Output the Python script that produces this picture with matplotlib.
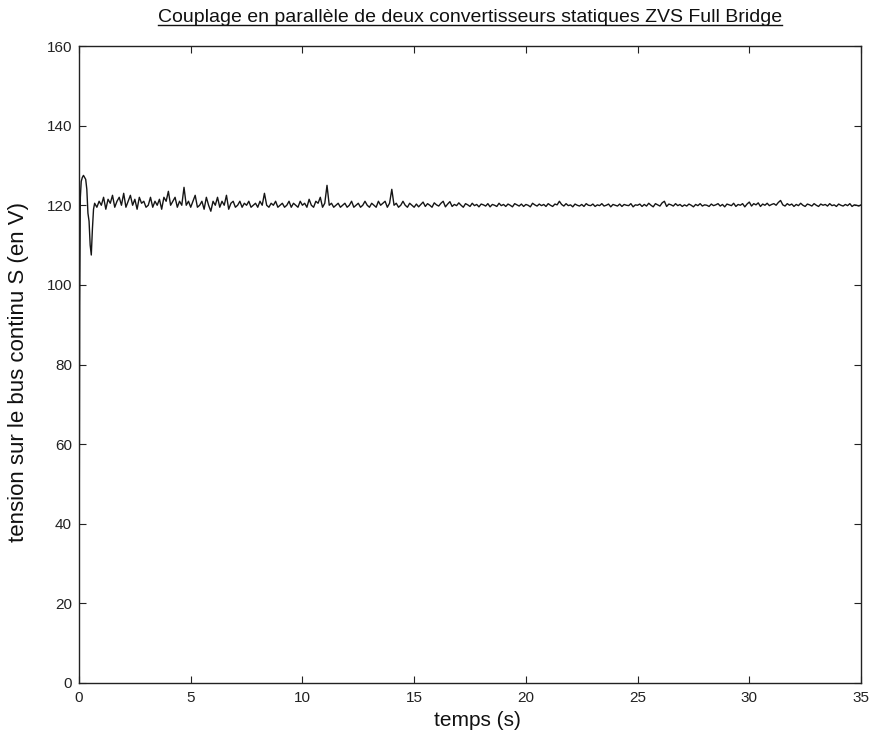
import matplotlib
matplotlib.use("Agg")
import matplotlib.pyplot as plt
from matplotlib.lines import Line2D

plt.rcParams['font.family'] = ['Liberation Sans', 'DejaVu Sans']

# ---- data ----
t_transient = [0.0, 0.01, 0.03, 0.06, 0.1, 0.15, 0.2, 0.25, 0.3, 0.35, 0.4, 0.45, 0.5, 0.55, 0.6, 0.65, 0.7]
v_transient = [0.0, 40.0, 95.0, 122.0, 126.0, 127.0, 127.5, 127.0, 126.5, 124.0, 118.0, 116.0, 110.0, 107.5, 114.0, 119.0, 120.5]

t_start = 0.8
t_step = 0.1
v_steady = [
    # 0.8 - 3.0
    119.5, 121, 120, 122, 119, 121.5, 120.5, 122.5, 119.5, 121, 122, 120, 123, 119.5, 121, 122.5, 120, 121.5, 119, 122, 120.5, 121, 119.5,
    # 3.1 - 5.0
    120, 122, 119.5, 121, 120, 121.5, 119, 122, 121, 123.5, 120, 121, 122, 119.5, 121, 120, 124.5, 120, 121, 119.5,
    # 5.1 - 7.0
    121, 122.5, 119.5, 120, 121, 119, 122, 120, 118.5, 121, 120, 122, 119.5, 121, 120, 122.5, 119, 120.5, 121, 119.5,
    # 7.1 - 9.0
    120, 121, 119.5, 120.5, 120, 121, 119.5, 120, 120.5, 119.5, 121, 120, 123, 120, 119.5, 120.5, 120, 121, 119.5, 120,
    # 9.1 - 11.0
    120.5, 119.5, 120, 121, 119.5, 120.5, 120, 119.5, 121, 120, 120.5, 119.5, 121.5, 120, 119.5, 121, 120.5, 122, 119.5, 120.5,
    # 11.1 - 13.0
    125, 120, 120.5, 119.5, 120, 120.5, 119.5, 120, 120.5, 119.5, 120, 121, 119.5, 120, 120.5, 119.5, 120, 121, 120, 119.5,
    # 13.1 - 15.0
    120.5, 120, 119.5, 121, 120, 120.5, 121, 119.5, 120.5, 124, 120, 120.5, 119.5, 120, 121, 120, 119.5, 120.5, 120, 119.5,
    # 15.1 - 35.0
    120.3, 119.6, 120.2, 120.8, 119.7, 120.4, 120.0, 119.5, 120.6, 120.1,
    119.8, 120.5, 121.0, 119.6, 120.3, 120.9, 119.7, 120.2, 119.9, 120.6,
    120.0, 119.5, 120.4, 120.1, 119.7, 120.5, 119.9, 120.2, 119.6, 120.3,
    120.1, 119.8, 120.4, 119.6, 120.2, 120.0, 119.7, 120.5, 119.9, 120.2,
    119.7, 120.3, 120.0, 119.6, 120.4, 120.1, 119.8, 120.3, 119.7, 120.2,
    120.0, 119.6, 120.5, 120.1, 119.8, 120.3, 119.9, 120.2, 119.7, 120.4,
    120.0, 119.7, 120.3, 120.1, 121.0, 120.2, 119.8, 120.4, 119.9, 120.1,
    119.6, 120.3, 120.0, 119.8, 120.2, 119.7, 120.4, 120.0, 119.9, 120.3,
    119.7, 120.1, 119.9, 120.4, 119.8, 120.0, 120.3, 119.6, 120.2, 120.0,
    119.8, 120.3, 119.7, 120.2, 120.0, 119.9, 120.4, 119.6, 120.1, 120.0,
    120.3, 119.7, 120.2, 119.8, 120.5, 120.0, 119.6, 120.4, 120.1, 119.8,
    120.6, 121.0, 119.7, 120.3, 120.1, 119.8, 120.4, 119.9, 120.2, 119.7,
    120.1, 119.8, 120.3, 120.0, 119.6, 120.2, 119.9, 120.4, 119.8, 120.1,
    120.0, 119.7, 120.3, 119.9, 120.1, 120.4, 119.8, 120.2, 119.6, 120.3,
    120.1, 119.9, 120.5, 119.7, 120.2, 120.0, 120.4, 119.6, 120.3, 120.8,
    119.8, 120.4, 120.1, 120.6, 119.7, 120.3, 120.0, 120.5, 119.9, 120.2,
    120.4, 120.0, 120.7, 121.2, 120.1, 119.8, 120.4, 120.0, 120.3, 119.7,
    120.2, 119.9, 120.5, 120.0, 119.7, 120.3, 120.1, 119.8, 120.4, 120.0,
    119.7, 120.3, 120.0, 120.2, 119.8, 120.4, 119.9, 120.1, 119.7, 120.3,
    120.0, 119.8, 120.2, 119.9, 120.4, 119.7, 120.1, 120.0, 119.8, 120.1,
]

x_ticks = [0, 5, 10, 15, 20, 25, 30, 35]
y_ticks = [0, 20, 40, 60, 80, 100, 120, 140, 160]

title = "Couplage en parallèle de deux convertisseurs statiques ZVS Full Bridge"
xlabel = "temps (s)"
ylabel = "tension sur le bus continu S (en V)"

# ---- build series ----
t_steady = [round(t_start + i * t_step, 3) for i in range(len(v_steady))]
t_all = list(t_transient) + t_steady
v_all = list(v_transient) + v_steady

W, H = 870, 731
fig = plt.figure(figsize=(W/100, H/100), dpi=100)
ax = fig.add_axes([79/W, 1 - 683/H, (861-79)/W, (683-46)/H])

ax.plot(t_all, v_all, color='#151515', linewidth=1.0)

ax.set_xlim(0, 35)
ax.set_ylim(0, 160)
ax.set_xticks(x_ticks)
ax.set_yticks(y_ticks)
ax.tick_params(direction='in', top=True, right=True, length=5, width=0.8,
               colors='#222222', labelsize=11)
ax.tick_params(axis='x', pad=6)
ax.tick_params(axis='y', pad=5)
for s in ax.spines.values():
    s.set_linewidth(1.0)
    s.set_color('#222222')

fig.text(477/W, 1 - 720/H, xlabel, fontsize=15, ha='center', va='center', color='#111111')
fig.text(19/W, 1 - 372/H, ylabel, fontsize=16, rotation=90, ha='center', va='center', color='#111111')

ttl = fig.text(470/W, 1 - 18/H, title, fontsize=14,
               ha='center', va='center', color='#111111')

fig.canvas.draw()
bb = ttl.get_window_extent(renderer=fig.canvas.get_renderer())
inv = fig.transFigure.inverted()
(x0, y0), (x1, y1) = inv.transform([[bb.x0, bb.y0], [bb.x1, bb.y1]])
fig.add_artist(Line2D([x0, x1], [y0 + 0.002, y0 + 0.002], transform=fig.transFigure,
                      color='#111111', linewidth=1.0))

fig.savefig("out.png", dpi=100)
